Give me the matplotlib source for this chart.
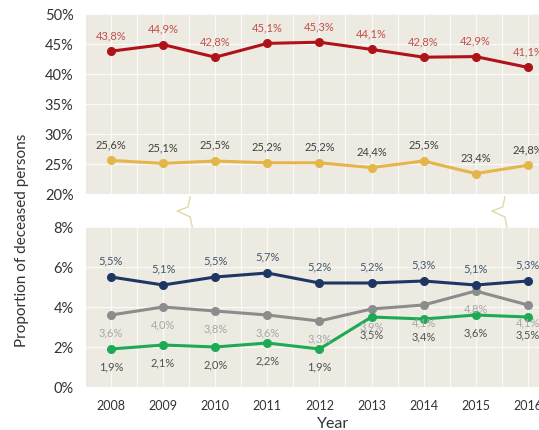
import matplotlib
matplotlib.use("Agg")
import matplotlib.pyplot as plt
from matplotlib.lines import Line2D
from matplotlib.ticker import FuncFormatter, MultipleLocator
import matplotlib.transforms as mtransforms

plt.rcParams['font.family'] = ['Lato', 'DejaVu Sans']

years = [2008, 2009, 2010, 2011, 2012, 2013, 2014, 2015, 2016]
red_vals = [43.8, 44.9, 42.8, 45.1, 45.3, 44.1, 42.8, 42.9, 41.1]
yellow_vals = [25.6, 25.1, 25.5, 25.2, 25.2, 24.4, 25.5, 23.4, 24.8]
navy_vals = [5.5, 5.1, 5.5, 5.7, 5.2, 5.2, 5.3, 5.1, 5.3]
gray_vals = [3.6, 4.0, 3.8, 3.6, 3.3, 3.9, 4.1, 4.8, 4.1]
green_vals = [1.9, 2.1, 2.0, 2.2, 1.9, 3.5, 3.4, 3.6, 3.5]

BG = '#ECEAE1'
W, H = 539, 431
fig = plt.figure(figsize=(W / 100, H / 100), dpi=100)

x0 = 2007.52
x1 = x0 + (W - 86) / 52.1 + 0.5  # extends past the right edge


def px_axes(left, top, right, bottom):
    return [left / W, 1 - bottom / H, (right - left) / W, (bottom - top) / H]


ax_top = fig.add_axes(px_axes(86, 15, 86 + (x1 - x0) * 52.1, 195))
ax_bot = fig.add_axes(px_axes(86, 228, 86 + (x1 - x0) * 52.1, 388))

pct = FuncFormatter(lambda v, p: f"{v:.0f}%")

for ax in (ax_top, ax_bot):
    ax.set_facecolor(BG)
    for s in ax.spines.values():
        s.set_visible(False)
    ax.set_xlim(x0, x1)
    ax.xaxis.set_major_locator(MultipleLocator(1))
    ax.xaxis.set_minor_locator(MultipleLocator(0.5))
    ax.grid(True, which='both', axis='x', color='white', lw=0.9, alpha=0.8)
    ax.grid(True, which='major', axis='y', color='white', lw=0.9, alpha=0.8)
    ax.set_axisbelow(True)
    ax.tick_params(length=0, which='both', colors='#333333')
    ax.tick_params(axis='y', labelsize=10.5, pad=9)
    ax.yaxis.set_major_formatter(pct)

ax_top.set_ylim(20, 50)
ax_top.yaxis.set_major_locator(MultipleLocator(5))
ax_top.tick_params(axis='x', labelbottom=False)

ax_bot.set_ylim(0, 8)
ax_bot.yaxis.set_major_locator(MultipleLocator(2))
ax_bot.tick_params(axis='x', labelsize=9, pad=9)
ax_bot.xaxis.set_major_formatter(FuncFormatter(lambda v, p: f"{int(v)}"))


def fmt(v):
    return f"{v:.1f}%".replace('.', ',')


def series(ax, vals, color, lab_color, dy):
    ax.plot(years, vals, color=color, lw=2.2, marker='o', ms=5.5, zorder=3)
    for x, v in zip(years, vals):
        ax.annotate(fmt(v), (x, v), xytext=(0, dy), textcoords='offset points',
                    ha='center', va='center', fontsize=8, color=lab_color,
                    zorder=4)


series(ax_top, red_vals, '#B0121A', '#C0504D', 12)
series(ax_top, yellow_vals, '#E6B54A', '#404040', 12)
series(ax_bot, gray_vals, '#8C8C8C', '#A6A6A6', -12)
series(ax_bot, green_vals, '#1DAA55', '#505050', -12)
series(ax_bot, navy_vals, '#1F3664', '#44546A', 12)

# axis break marks between the two panels
trans = mtransforms.blended_transform_factory(ax_top.transData, fig.transFigure)
for bx in (2009.52, 2015.56):
    d = 0.25
    xs = [bx, bx - 0.04, bx - d, bx, bx + 0.04]
    ys_px = [198, 208, 212, 218, 228]
    ys = [1 - y / H for y in ys_px]
    fig.add_artist(Line2D(xs, ys, transform=trans, color='#E3D9A2', lw=1.0))

fig.text(22 / W, 1 - 240 / H, 'Proportion of deceased persons', rotation=90,
         ha='center', va='center', fontsize=11, color='#333333')
fig.text(333 / W, 1 - 424 / H, 'Year', ha='center', va='center',
         fontsize=11.5, color='#333333')

fig.savefig('out.png', dpi=100, facecolor='white')
